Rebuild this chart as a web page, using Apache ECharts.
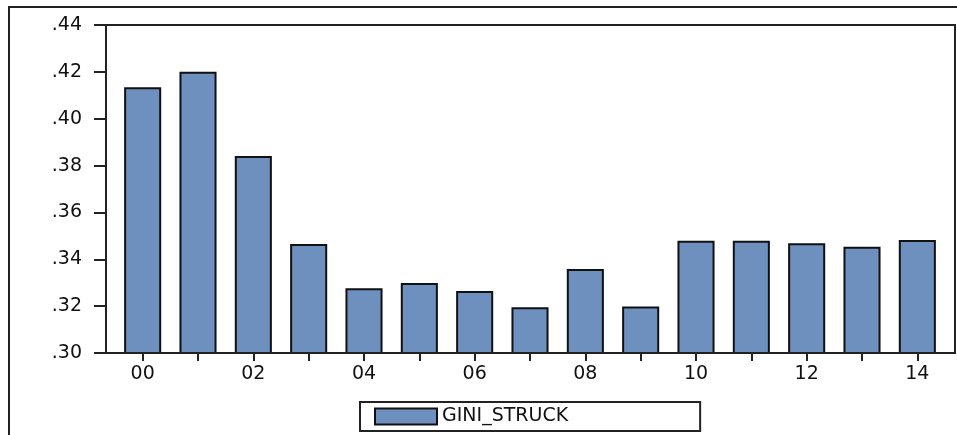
<!DOCTYPE html>
<html>
<head>
<meta charset="utf-8">
<script src="https://cdn.jsdelivr.net/npm/echarts@6/dist/echarts.min.js"></script>
<style>
html,body{margin:0;padding:0;background:#fff;}
#chart{width:957px;height:435px;}
</style>
</head>
<body>
<div id="chart"></div>
<script>
const categories = ['00','01','02','03','04','05','06','07','08','09','10','11','12','13','14'];
const giniStruck = [0.4134,0.4200,0.3841,0.3465,0.3276,0.3299,0.3265,0.3195,0.3359,0.3199,0.3479,0.3479,0.3468,0.3454,0.3482];
const seriesName = 'GINI_STRUCK';
const yMin = 0.30, yMax = 0.44, yStep = 0.02;

const font = 'DejaVu Sans';
const chart = echarts.init(document.getElementById('chart'));
chart.setOption({
  animation: false,
  backgroundColor: '#fff',
  graphic: [{
    type: 'polyline',
    shape: { points: [[9, 440], [9, 7], [960, 7]] },
    style: { stroke: '#222', lineWidth: 2, fill: null }
  }],
  grid: [
    { left: 115, right: 12, top: 25, bottom: 82, show: false },
    { left: 106, right: 2, top: 25, bottom: 82, show: true, borderColor: '#222', borderWidth: 2, backgroundColor: 'transparent', z: 3 }
  ],
  legend: {
    data: [seriesName],
    left: 360, top: 402,
    padding: [5, 132, 5, 14],
    itemWidth: 62, itemHeight: 16, itemGap: 12,
    borderColor: '#222', borderWidth: 2, borderRadius: 0,
    icon: 'rect',
    textStyle: { fontFamily: font, fontSize: 19, color: '#111' }
  },
  xAxis: [
    {
      type: 'category', gridIndex: 0, data: categories, boundaryGap: true,
      axisLine: { show: false },
      axisTick: { show: true, alignWithLabel: true, interval: 0, length: 8, lineStyle: { color: '#222', width: 2 } },
      axisLabel: { interval: 1, fontFamily: font, fontSize: 19, color: '#111', margin: 12 },
      splitLine: { show: false }
    },
    {
      type: 'value', gridIndex: 1, min: 0, max: 1, show: false
    }
  ],
  yAxis: [
    { type: 'value', gridIndex: 0, min: yMin, max: yMax, interval: yStep, show: false },
    {
      type: 'value', gridIndex: 1, min: yMin, max: yMax, interval: yStep,
      axisLine: { show: false },
      axisTick: { show: true, length: 12, lineStyle: { color: '#222', width: 2 } },
      axisLabel: {
        fontFamily: font, fontSize: 19, color: '#111', margin: 24,
        formatter: v => v.toFixed(2).replace(/^0/, '')
      },
      splitLine: { show: false }
    }
  ],
  series: [{
    name: seriesName,
    type: 'bar',
    xAxisIndex: 0, yAxisIndex: 0,
    data: giniStruck,
    barWidth: '67%',
    itemStyle: { color: '#6e90be', borderColor: '#111', borderWidth: 2 }
  }]
});
</script>
</body>
</html>
